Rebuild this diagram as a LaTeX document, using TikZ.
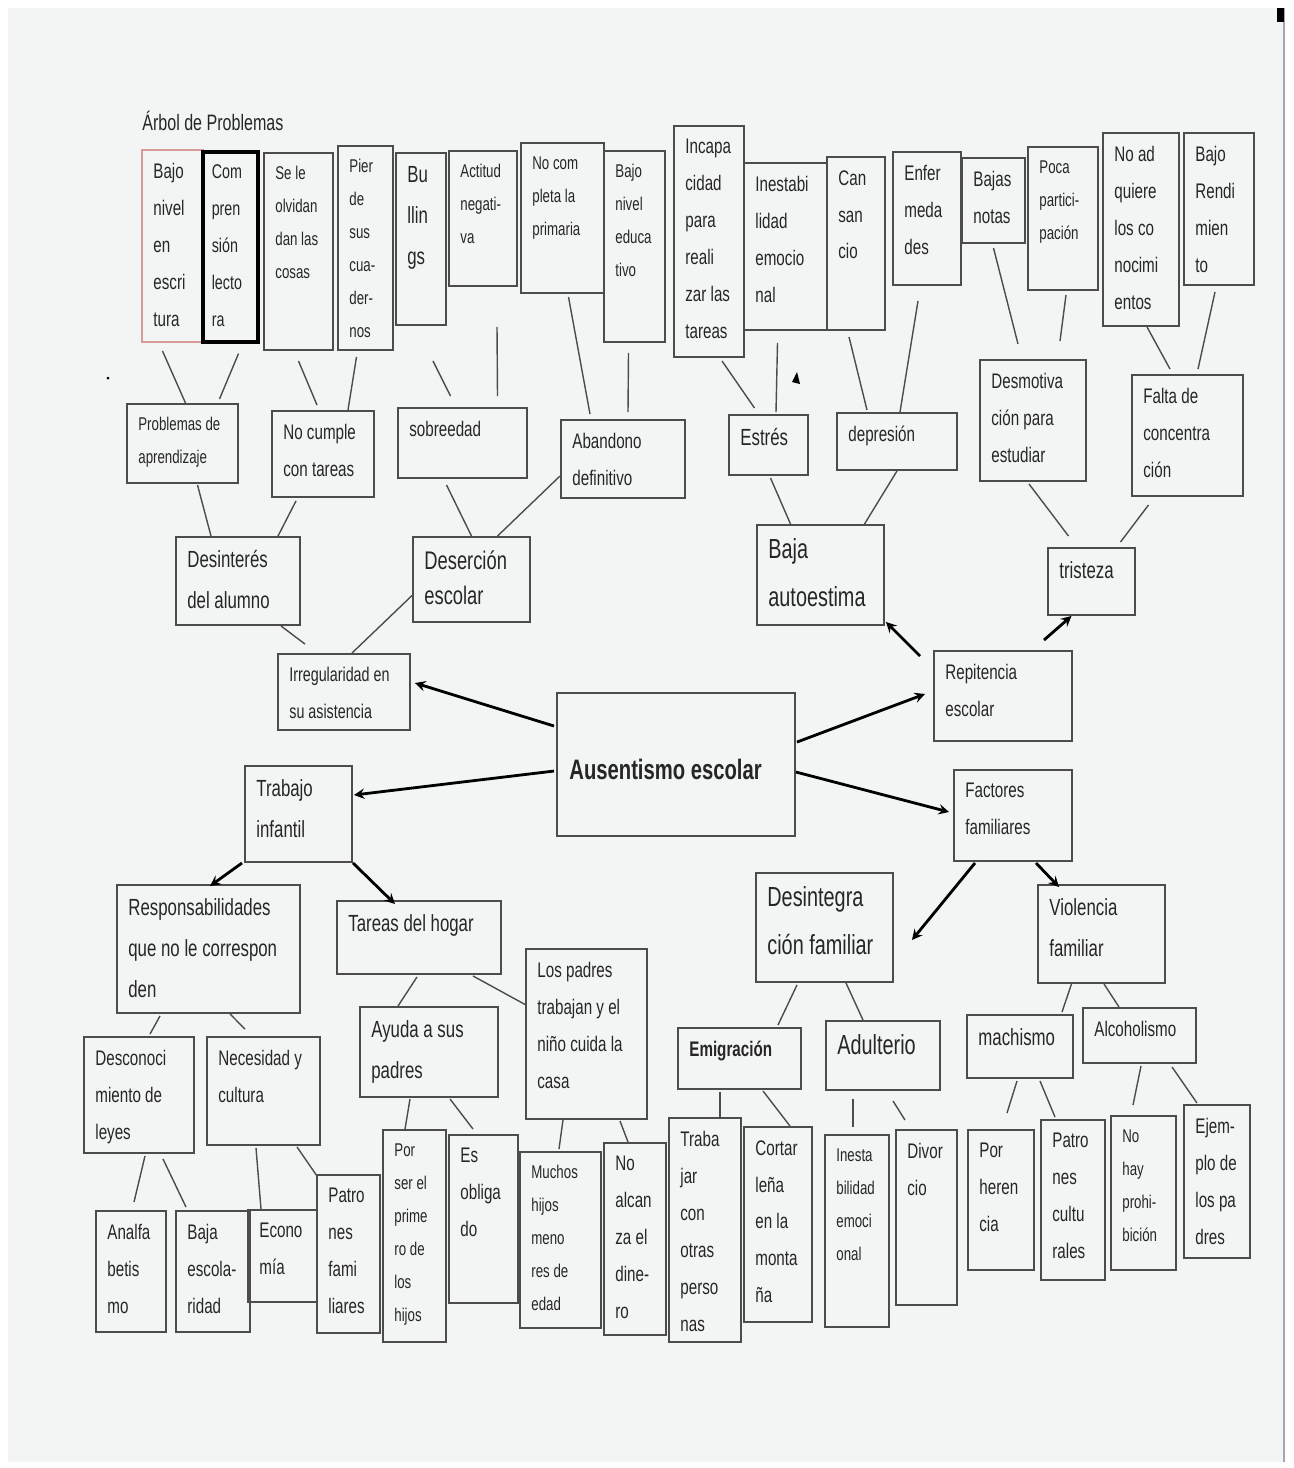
\documentclass[tikz,border=0pt]{standalone}
\usepackage{fontspec}
\setmainfont{Liberation Sans}[FakeStretch=0.72]
\usetikzlibrary{fit}

\definecolor{paper}{HTML}{F3F5F5}
\definecolor{ink}{HTML}{262626}
\definecolor{frame}{HTML}{4C4C4C}
\definecolor{pinkframe}{HTML}{D89A9A}

\newcommand{\sizeA}{\fontsize{12}{21}\selectfont}
\newcommand{\sizeB}{\fontsize{10.5}{18.8}\selectfont}
\newcommand{\sizeC}{\fontsize{11.3}{21}\selectfont}
\newcommand{\sizeD}{\fontsize{13.3}{23.4}\selectfont}
\newcommand{\sizeE}{\fontsize{15.7}{27.3}\selectfont}
\newcommand{\sizeF}{\fontsize{14.5}{20}\selectfont}
\newcommand{\sizeAb}{\fontsize{12}{21}\selectfont\bfseries}

\begin{document}
\begin{tikzpicture}[x=0.2mm, y=-0.2mm,
    box/.style={draw=frame, line width=1.1pt, inner sep=0pt},
    boxtext/.style={anchor=north west, inner sep=0pt, align=left, text=ink},
    link/.style={draw=frame, line width=0.8pt},
    push/.style={->, >=stealth, line width=1.6pt, black}]

    % Sheet
    \useasboundingbox (0,0) rectangle (1293,1468);
    \fill[white] (0,0) rectangle (1293,1468);
    \fill[paper] (8,8) rectangle (1284,1462);
    \draw[gray!70, line width=1pt] (1284,8) -- (1284,1462);
    \fill[black] (1277,8) rectangle (1284,22);

    % Title
    \node[anchor=base west, inner sep=0pt, font=\fontsize{12.7}{15}\selectfont, text=ink] (title) at (142,130) {Árbol de Problemas};

    % Top row
    \node[box, draw=pinkframe, fit={(142,150) (203,342)}] (escritura) {};
    \node[boxtext, font=\sizeA] (escritura-t) at ([shift={(12,14)}]escritura.north west) {Bajo\\nivel\\en\\escri\\tura};
    \node[box, draw=black, line width=1.8pt, fit={(203,152) (258,342)}] (comprension) {};
    \node[boxtext, font=\sizeC] (comprension-t) at ([shift={(10,14)}]comprension.north west) {Com\\pren\\sión\\lecto\\ra};
    \foreach \nm/\xa/\ya/\xb/\yb/\fs/\tx in {
      olvidan/264/153/333/350/\sizeB/{Se le\\olvidan\\dan las\\cosas},
      pierde/338/146/393/350/\sizeB/{Pier\\de\\sus\\cua-\\der-\\nos},
      bullying/396/153/446/325/\sizeD/{Bu\\llin\\gs},
      actitud/449/151/517/286/\sizeB/{Actitud\\negati-\\va},
      primaria/521/143/604/293/\sizeB/{No com\\pleta la\\primaria},
      educativo/604/151/665/342/\sizeB/{Bajo\\nivel\\educa\\tivo},
      incapacidad/674/126/744/357/\sizeA/{Incapa\\cidad\\para\\reali\\zar las\\tareas},
      inestabilidad/744/163/827/330/\sizeA/{Inestabi\\lidad\\emocio\\nal},
      cansancio/827/157/885/330/\sizeA/{Can\\san\\cio},
      enfermedad/893/152/961/285/\sizeA/{Enfer\\meda\\des},
      notas/962/158/1025/243/\sizeA/{Bajas\\notas},
      participacion/1028/147/1098/290/\sizeB/{Poca\\partici-\\pación},
      conocimientos/1103/133/1179/326/\sizeA/{No ad\\quiere\\los co\\nocimi\\entos},
      rendimiento/1184/133/1254/285/\sizeA/{Bajo\\Rendi\\mien\\to}} {
      \node[box, fit={(\xa,\ya) (\xb,\yb)}] (\nm) {};
      \node[boxtext, font=\fs] (\nm-t) at ([shift={(12,14)}]\nm.north west) {\tx};
    }

    % Causes and effects around the centre
    \foreach \nm/\xa/\ya/\xb/\yb/\fs/\tx in {
      aprendizaje/127/404/238/483/\sizeB/{Problemas de\\aprendizaje},
      cumple/272/411/374/497/\sizeA/{No cumple\\con tareas},
      sobreedad/398/408/527/478/\sizeA/{sobreedad},
      abandono/561/420/685/498/\sizeA/{Abandono\\definitivo},
      estres/729/415/808/475/\sizeD/{Estrés},
      depresion/837/413/957/470/\sizeA/{depresión},
      desmotivacion/980/360/1086/481/\sizeA/{Desmotiva\\ción para\\estudiar},
      concentracion/1132/375/1243/496/\sizeA/{Falta de\\concentra\\ción},
      desinteres/176/537/300/625/\sizeD/{Desinterés\\del alumno},
      desercion/413/537/530/622/\sizeF/{Deserción\\escolar},
      autoestima/757/525/884/625/\sizeE/{Baja\\autoestima},
      tristeza/1048/548/1135/615/\sizeD/{tristeza},
      irregularidad/278/654/410/730/\sizeC/{Irregularidad en\\su asistencia},
      repitencia/934/651/1072/741/\sizeA/{Repitencia\\escolar},
      trabajo/245/766/352/862/\sizeD/{Trabajo\\infantil},
      factores/954/770/1072/861/\sizeA/{Factores\\familiares}} {
      \node[box, fit={(\xa,\ya) (\xb,\yb)}] (\nm) {};
      \node[boxtext, font=\fs] (\nm-t) at ([shift={(12,14)}]\nm.north west) {\tx};
    }

    % Centre
    \node[box, fit={(557,693) (795,836)}] (ausentismo) {};
    \node[anchor=west, inner sep=0pt, font=\fontsize{16}{19}\selectfont\bfseries, text=ink] (ausentismo-t) at ([shift={(13,5)}]ausentismo.west) {Ausentismo escolar};

    % Lower branches
    \foreach \nm/\xa/\ya/\xb/\yb/\fs/\tx in {
      responsabilidades/117/885/300/1013/\sizeD/{Responsabilidades\\que no le correspon\\den},
      hogar/337/901/501/974/\sizeD/{Tareas del hogar},
      leyes/84/1037/194/1153/\sizeA/{Desconoci\\miento de\\leyes},
      necesidad/207/1037/320/1145/\sizeA/{Necesidad y\\cultura},
      ayuda/360/1007/498/1097/\sizeD/{Ayuda a sus\\padres},
      padres/526/949/647/1119/\sizeA/{Los padres\\trabajan y el\\niño cuida la\\casa},
      analfabetismo/96/1211/166/1332/\sizeA/{Analfa\\betis\\mo},
      escolaridad/176/1211/250/1332/\sizeA/{Baja\\escola-\\ridad},
      economia/248/1210/317/1302/\sizeA/{Econo\\mía},
      patrones/317/1175/380/1333/\sizeA/{Patro\\nes\\fami\\liares},
      primero/383/1130/446/1342/\sizeB/{Por\\ser el\\prime\\ro de\\los\\hijos},
      obligado/449/1135/518/1303/\sizeA/{Es\\obliga\\do},
      hijos/520/1152/601/1328/\sizeB/{Muchos\\hijos\\meno\\res de\\edad},
      dinero/604/1143/666/1335/\sizeA/{No\\alcan\\za el\\dine-\\ro},
      desintegracion/756/873/893/982/\sizeE/{Desintegra\\ción familiar},
      violencia/1038/885/1165/983/\sizeD/{Violencia\\familiar},
      emigracion/678/1028/801/1089/\sizeAb/{Emigración},
      adulterio/826/1021/940/1090/\sizeE/{Adulterio},
      machismo/967/1015/1073/1078/\sizeD/{machismo},
      alcoholismo/1083/1008/1196/1063/\sizeA/{Alcoholismo},
      personas/669/1118/741/1342/\sizeA/{Traba\\jar\\con\\otras\\perso\\nas},
      lena/744/1127/812/1322/\sizeA/{Cortar\\leña\\en la\\monta\\ña},
      emocional/825/1135/889/1327/\sizeB/{Inesta\\bilidad\\emoci\\onal},
      divorcio/896/1130/957/1305/\sizeA/{Divor\\cio},
      herencia/968/1130/1034/1270/\sizeA/{Por\\heren\\cia},
      culturales/1041/1120/1105/1280/\sizeA/{Patro\\nes\\cultu\\rales},
      prohibicion/1111/1116/1176/1270/\sizeB/{No\\hay\\prohi-\\bición},
      ejemplo/1184/1105/1250/1258/\sizeA/{Ejem-\\plo de\\los pa\\dres}} {
      \node[box, fit={(\xa,\ya) (\xb,\yb)}] (\nm) {};
      \node[boxtext, font=\fs] (\nm-t) at ([shift={(12,14)}]\nm.north west) {\tx};
    }

    % Plain links, from the bottom of one box to the top of the next
    \foreach \a/\dxa/\dya/\b/\dxb/\dyb in {
      escritura/-10/8/aprendizaje/3/0, comprension/8/10/aprendizaje/37/-4,
      olvidan/0/10/cumple/-6/-5, pierde/-9/6/cumple/25/0,
      bullying/12/35/sobreedad/-12/-11, actitud/14/40/sobreedad/35/-11,
      primaria/6/3/abandono/-33/-5, educativo/-6/10/abandono/5/-7,
      incapacidad/13/3/estres/-14/-6, inestabilidad/-8/12/estres/7.5/-2,
      cansancio/-7/6/depresion/-30/-2, enfermedad/-9/15/depresion/3/0,
      notas/0/4/desmotivacion/-15/-15, participacion/3/4/desmotivacion/27/-18,
      conocimientos/6/0/concentracion/-17.5/-5, rendimiento/-4/6/concentracion/10.5/-5,
      aprendizaje/15/1/desinteres/-27/0, cumple/-27/3/desinteres/40/0,
      sobreedad/-16/6/desercion/0/0,
      estres/2/2/autoestima/-30/0, depresion/0/0/autoestima/44/0,
      desmotivacion/-4/2/tristeza/-23/-11, concentracion/-39/8/tristeza/29/-5,
      desinteres/43/0/irregularidad/-39/-9,
      responsabilidades/-48.5/2/leyes/11/-2, responsabilidades/21.5/0/necesidad/-18.5/-7,
      hogar/-2/2/ayuda/-31/0,
      leyes/6/2/analfabetismo/3/-8, leyes/24/5/escolaridad/-27/-3,
      necesidad/-7.5/2/economia/-21.5/0,
      ayuda/-19/1/primero/-9.5/0, ayuda/21/1/obligado/-10.5/-5,
      padres/-23.5/0/hijos/-1.5/-2, padres/33.5/1/dinero/-7/0,
      desintegracion/-27.5/2/emigracion/38.5/-2, desintegracion/21.5/0/adulterio/-20/0,
      violencia/-30/0/machismo/42/-2, violencia/2.5/0/alcoholismo/-20.5/0,
      emigracion/-19.5/2/personas/15/0, emigracion/23.5/1/lena/12/0,
      adulterio/-30/8/emocional/-4/-7, adulterio/10/10/divorcio/-21.5/-9,
      machismo/-3/2/herencia/6/-16, machismo/20/2/culturales/-18/-2,
      alcoholismo/1.5/2/prohibicion/-10.5/-10, alcoholismo/32.5/3/ejemplo/-20/-1} {
      \draw[link] ([shift={(\dxa,\dya)}]\a.south) -- ([shift={(\dxb,\dyb)}]\b.north);
    }
    \draw[link] ([shift={(0,17)}]abandono.west) -- ([shift={(26,0)}]desercion.north);
    \draw[link] ([shift={(0,16)}]desercion.west) -- ([shift={(8,0)}]irregularidad.north);
    \draw[link] ([shift={(54,1)}]hogar.south) -- ([shift={(1,-29)}]padres.west);
    \draw[link] ([shift={(33.5,1)}]necesidad.south) -- ([shift={(1,2)}]patrones.north west);

    % Arrows
    \draw[push] ([shift={(-2,34)}]ausentismo.north west) -- ([shift={(4,-9)}]irregularidad.east);
    \draw[push] ([shift={(1,50)}]ausentismo.north east) -- ([shift={(-8,-2)}]repitencia.west);
    \draw[push] ([shift={(-2,79)}]ausentismo.north west) -- ([shift={(1,-19)}]trabajo.east);
    \draw[push] ([shift={(0,80)}]ausentismo.north east) -- ([shift={(-4,-3.5)}]factores.west);
    \draw[push] ([shift={(-13,6)}]repitencia.north west) -- ([shift={(1,-4)}]autoestima.south east);
    \draw[push] ([shift={(41,-10)}]repitencia.north) -- ([shift={(-20,0)}]tristeza.south);
    \draw[push] ([shift={(-2,0)}]trabajo.south west) -- ([shift={(1.5,2)}]responsabilidades.north);
    \draw[push] (trabajo.south east) -- ([shift={(-24,4)}]hogar.north);
    \draw[push] ([shift={(-38,1)}]factores.south) -- ([shift={(18,12.5)}]desintegracion.east);
    \draw[push] ([shift={(23,1)}]factores.south) -- ([shift={(-42.5,3)}]violencia.north);

    % Stray marks
    \fill[black] (792,382) -- (800,384) -- (797,372) -- cycle;
    \fill[black] (108,378) circle (1.5);
  \end{tikzpicture}
\end{document}
